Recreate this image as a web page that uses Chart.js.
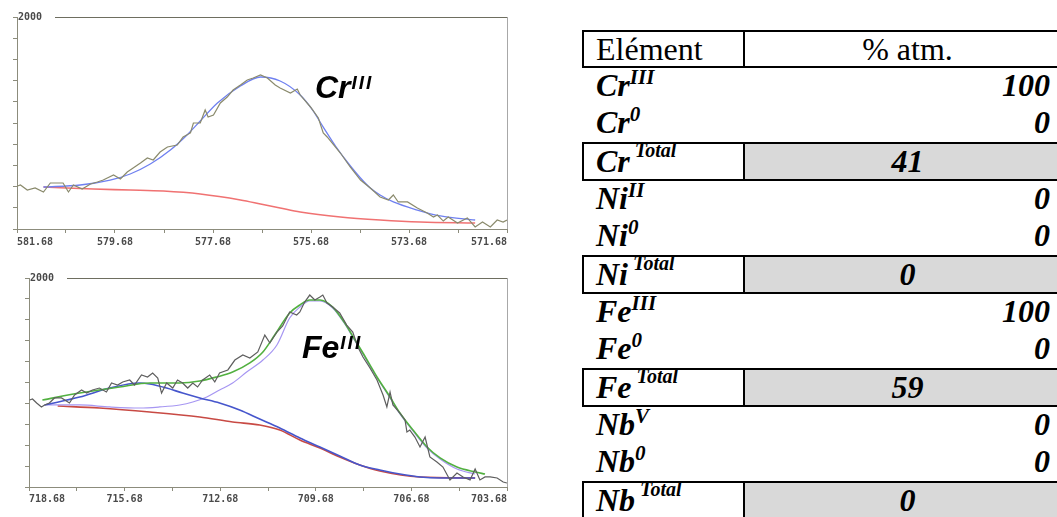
<!DOCTYPE html>
<html>
<head>
<meta charset="utf-8">
<script src="https://cdn.jsdelivr.net/npm/chart.js@4.4.0/dist/chart.umd.min.js"></script>
<style>
html, body { margin: 0; padding: 0; background: #fff; }
body { width: 1057px; height: 517px; overflow: hidden; position: relative; }
canvas { position: absolute; left: 0; }
#crChart { top: 0; }
#feChart { top: 260px; }
.tag { position: absolute; font: italic bold 32px "Liberation Sans", Arial, sans-serif; line-height: 32px; color: #000; white-space: nowrap; z-index: 2; }
.tag span { position: relative; top: -9px; font-size: 19px; letter-spacing: 2px; margin-left: 1px; }
#table { position: absolute; left: 582px; top: 30px; width: 488px; font-family: "Liberation Serif", "Times New Roman", serif; color: #000; }
.row { display: flex; box-sizing: border-box; height: 37px; border-left: 2px solid transparent; }
.row.head { height: 38px; border: 2px solid #000; border-right: none; font-size: 32px; }
.row.total { height: 39px; border: 2px solid #000; border-right: none; }
.cell1 { box-sizing: border-box; width: 161px; padding-left: 12px; white-space: nowrap; }
.row.head .cell1, .row.total .cell1 { border-right: 2px solid #000; }
.cell2 { flex: 1; white-space: nowrap; }
.row.head .cell2 { text-align: center; }
.lbl { font-size: 32px; font-weight: bold; font-style: italic; line-height: 35px; }
.lbl sup { font-size: 21px; position: relative; top: -12px; vertical-align: baseline; line-height: 0; }
.row.total .lbl sup { font-size: 20px; top: -15px; margin-left: 5px; }
.val { font-size: 32px; font-weight: bold; font-style: italic; line-height: 35px; text-align: right; padding-right: 20px; }
.row.total .val { background: #d9d9d9; text-align: center; padding-right: 0; }
.row.head .cell1, .row.head .cell2 { line-height: 34px; }
</style>
</head>
<body>
<canvas id="crChart" width="540" height="260"></canvas>
<canvas id="feChart" width="540" height="257"></canvas>
<div class="tag" style="left:315px; top:71px;">Cr<span>III</span></div>
<div class="tag" style="left:302px; top:331px;">Fe<span>III</span></div>
<div id="table"></div>
<script>
// Cr 2p spectrum (binding energy eV, counts)
const crRawEnergy = [581.67, 581.61, 581.47, 581.31, 581.14, 581.00, 580.86, 580.74, 580.63, 580.53, 580.35, 580.18, 580.04, 579.92, 579.71, 579.57, 579.43, 579.31, 579.16, 579.02, 578.90, 578.76, 578.61, 578.41, 578.29, 578.14, 578.08, 577.94, 577.84, 577.78, 577.67, 577.53, 577.39, 577.27, 577.12, 576.98, 576.86, 576.71, 576.57, 576.41, 576.31, 576.10, 575.96, 575.90, 575.69, 575.53, 575.43, 575.35, 575.08, 574.88, 574.67, 574.47, 574.27, 574.10, 574.00, 573.90, 573.71, 573.51, 573.31, 573.18, 573.10, 572.98, 572.88, 572.69, 572.49, 572.33, 572.18, 572.02, 571.88, 571.76, 571.68];
const crRawCounts = [406, 415, 368, 387, 349, 434, 434, 434, 349, 415, 377, 425, 443, 462, 509, 472, 538, 575, 623, 670, 651, 726, 774, 792, 868, 906, 1000, 1000, 1123, 1057, 1075, 1189, 1245, 1311, 1358, 1406, 1425, 1453, 1425, 1358, 1330, 1283, 1321, 1264, 1151, 1047, 906, 868, 717, 585, 462, 387, 302, 274, 321, 255, 255, 198, 151, 113, 132, 75, 113, 57, 104, 19, 66, 19, 85, 66, 85];
const crFitEnergy = [581.14, 580.39, 579.78, 579.37, 578.96, 578.55, 578.21, 577.94, 577.59, 577.12, 576.71, 576.31, 575.90, 575.65, 575.43, 575.18, 574.94, 574.67, 574.47, 574.27, 574.00, 573.51, 573.04, 572.33];
const crFitCounts = [396, 415, 462, 519, 613, 745, 887, 1019, 1189, 1349, 1434, 1396, 1264, 1123, 962, 783, 632, 481, 387, 321, 255, 179, 123, 85];
const crBgEnergy = [581.14, 580.12, 579.37, 578.69, 577.94, 577.12, 576.71, 576.31, 575.90, 575.08, 574.27, 573.45, 572.33];
const crBgCounts = [396, 377, 368, 358, 330, 274, 236, 198, 160, 113, 85, 66, 57];
const crTicks = [581.68, 580.68, 579.68, 578.68, 577.68, 576.68, 575.68, 574.68, 573.68, 572.68, 571.68];
const crTickLabels = ['581.68', '579.68', '577.68', '575.68', '573.68', '571.68'];

// Fe 2p spectrum
const feRawEnergy = [718.66, 718.57, 718.44, 718.29, 718.19, 718.04, 717.88, 717.66, 717.41, 717.25, 717.03, 716.87, 716.69, 716.47, 716.25, 716.09, 715.90, 715.74, 715.52, 715.37, 715.15, 714.96, 714.80, 714.64, 714.52, 714.36, 714.17, 714.02, 713.86, 713.70, 713.54, 713.39, 713.23, 713.01, 712.85, 712.70, 712.44, 712.22, 711.97, 711.75, 711.50, 711.28, 711.12, 710.90, 710.72, 710.50, 710.28, 710.18, 710.03, 709.87, 709.71, 709.55, 709.46, 709.33, 709.15, 708.93, 708.71, 708.52, 708.36, 708.20, 707.98, 707.76, 707.57, 707.45, 707.35, 707.26, 707.04, 706.88, 706.82, 706.73, 706.57, 706.41, 706.25, 706.10, 705.88, 705.69, 705.47, 705.25, 705.06, 704.84, 704.68, 704.53, 704.37, 704.21, 703.99, 703.80, 703.68];
const feRawCounts = [833, 842, 804, 766, 785, 804, 852, 852, 804, 880, 928, 899, 928, 947, 909, 995, 976, 1005, 1024, 976, 1072, 1053, 1091, 1043, 899, 995, 947, 1024, 995, 947, 995, 957, 1024, 1072, 1005, 1091, 1120, 1215, 1263, 1234, 1292, 1454, 1378, 1483, 1541, 1675, 1646, 1675, 1770, 1837, 1789, 1818, 1837, 1761, 1722, 1665, 1550, 1483, 1340, 1244, 1139, 1024, 880, 766, 909, 785, 708, 641, 526, 545, 478, 383, 478, 287, 239, 191, 67, 134, 96, 67, 172, 67, 96, 96, 86, 48, 38];
const feEnvEnergy = [718.26, 717.09, 715.84, 714.89, 713.95, 713.32, 712.79, 712.29, 711.75, 711.34, 710.97, 710.50, 710.18, 709.87, 709.55, 709.15, 708.77, 708.45, 708.20, 707.89, 707.76, 707.35, 707.04, 706.63, 706.19, 705.78, 705.25, 704.68, 704.37];
const feEnvCounts = [833, 899, 957, 995, 995, 1014, 1053, 1100, 1187, 1292, 1454, 1665, 1742, 1789, 1789, 1722, 1569, 1407, 1282, 1120, 1053, 861, 708, 545, 383, 278, 191, 144, 124];
const feLowEnergy = [718.19, 717.09, 716.15, 715.21, 714.89, 714.36, 713.86, 713.32, 712.70, 712.07, 711.44, 710.81, 710.18, 709.55, 708.93, 708.30, 707.67, 707.04, 706.41, 705.78, 704.68];
const feLowCounts = [785, 861, 947, 995, 986, 947, 899, 852, 804, 737, 651, 565, 469, 383, 297, 211, 163, 124, 96, 86, 86];
const feMainEnergy = [718.19, 717.09, 716.15, 715.21, 714.58, 713.95, 713.54, 713.10, 712.70, 712.29, 711.85, 711.34, 710.90, 710.50, 710.18, 709.87, 709.55, 709.15, 708.77, 708.45, 708.20, 707.89, 707.35, 707.04, 706.63, 706.19, 705.78, 705.25, 704.68];
const feMainCounts = [785, 785, 766, 756, 766, 785, 813, 861, 928, 995, 1100, 1215, 1359, 1617, 1722, 1780, 1780, 1713, 1560, 1397, 1273, 1110, 852, 699, 536, 373, 268, 172, 124];
const feBgEnergy = [717.78, 716.47, 714.89, 713.32, 712.29, 711.44, 710.81, 710.18, 709.55, 708.93, 708.30, 707.67, 706.41, 704.68];
const feBgCounts = [775, 756, 718, 670, 622, 593, 545, 450, 373, 287, 211, 153, 96, 86];
const feTicks = [718.68, 717.18, 715.68, 714.18, 712.68, 711.18, 709.68, 708.18, 706.68, 705.18, 703.68];
const feTickLabels = ['718.68', '715.68', '712.68', '709.68', '706.68', '703.68'];

// table
const rowSymbols = ['Cr', 'Cr', 'Cr', 'Ni', 'Ni', 'Ni', 'Fe', 'Fe', 'Fe', 'Nb', 'Nb', 'Nb'];
const rowStates = ['III', '0', 'Total', 'II', '0', 'Total', 'III', '0', 'Total', 'V', '0', 'Total'];
const rowValues = [100, 0, 41, 0, 0, 0, 100, 0, 59, 0, 0, 0];

function pts(xs, ys) {
    return xs.map((x, i) => ({ x: x, y: ys[i] }));
}

const axisColor = '#8c8c7c';
const tickFont = { family: 'DejaVu Sans Mono', size: 10, weight: 'bold' };

// top and right frame lines, top one leaves room for the "2000" label
const framePlugin = {
    id: 'frame',
    afterDraw(chart) {
        const a = chart.chartArea;
        const ctx = chart.ctx;
        ctx.save();
        ctx.lineWidth = 1;
        ctx.strokeStyle = '#6e6e60';
        ctx.beginPath();
        ctx.moveTo(a.left + 38, a.top + 0.5);
        ctx.lineTo(a.right, a.top + 0.5);
        ctx.stroke();
        ctx.strokeStyle = '#a8a8a8';
        ctx.beginPath();
        ctx.moveTo(a.right + 0.5, a.top);
        ctx.lineTo(a.right + 0.5, a.bottom);
        ctx.stroke();
        ctx.restore();
    }
};

function spectrumChart(id, cfg) {
    return new Chart(document.getElementById(id), {
        type: 'line',
        data: {
            datasets: cfg.series.map(s => ({
                data: pts(s.e, s.c),
                borderColor: s.color,
                borderWidth: s.width,
                pointRadius: 0,
                fill: false,
                tension: s.smooth ? 0.4 : 0,
                cubicInterpolationMode: s.smooth ? 'monotone' : 'default'
            }))
        },
        options: {
            responsive: false,
            animation: false,
            events: [],
            layout: { padding: { top: cfg.top, right: 33, bottom: 0, left: 0 } },
            plugins: { legend: { display: false }, tooltip: { enabled: false } },
            scales: {
                x: {
                    type: 'linear',
                    reverse: true,
                    min: Math.min(...cfg.ticks),
                    max: Math.max(...cfg.ticks),
                    afterBuildTicks: s => { s.ticks = cfg.ticks.slice().sort((a, b) => a - b).map(v => ({ value: v })); },
                    afterFit: s => { s.height = cfg.xh; },
                    grid: { drawOnChartArea: false, drawTicks: true, tickLength: 4, color: axisColor },
                    border: { display: true, color: axisColor, width: 1 },
                    ticks: {
                        autoSkip: false, maxRotation: 0, align: 'inner', padding: cfg.xpad,
                        color: '#4a4a4a', font: tickFont,
                        callback: v => { const t = Number(v).toFixed(2); return cfg.labels.includes(t) ? t : ''; }
                    }
                },
                y: {
                    min: 0,
                    max: 2000,
                    afterFit: s => { s.width = cfg.yw; },
                    grid: { drawOnChartArea: false, drawTicks: true, tickLength: 4, color: axisColor },
                    border: { display: true, color: axisColor, width: 1 },
                    ticks: {
                        stepSize: 200, mirror: true, padding: 1,
                        color: '#4a4a4a', font: tickFont,
                        callback: v => v === 2000 ? '2000' : ''
                    }
                }
            }
        },
        plugins: [framePlugin]
    });
}

spectrumChart('crChart', {
    top: 17, yw: 17, xh: 31, xpad: 3,
    ticks: crTicks, labels: crTickLabels,
    series: [
        { e: crRawEnergy, c: crRawCounts, color: '#8a8a6c', width: 1.2, smooth: false },
        { e: crFitEnergy, c: crFitCounts, color: '#6f80f0', width: 1.3, smooth: true },
        { e: crBgEnergy, c: crBgCounts, color: '#f07272', width: 1.6, smooth: true }
    ]
});

spectrumChart('feChart', {
    top: 18, yw: 29, xh: 30, xpad: 2,
    ticks: feTicks, labels: feTickLabels,
    series: [
        { e: feRawEnergy, c: feRawCounts, color: '#5e5e5e', width: 1.2, smooth: false },
        { e: feEnvEnergy, c: feEnvCounts, color: '#52b040', width: 1.6, smooth: true },
        { e: feLowEnergy, c: feLowCounts, color: '#4656cc', width: 1.6, smooth: true },
        { e: feMainEnergy, c: feMainCounts, color: '#a696f2', width: 1.2, smooth: true },
        { e: feBgEnergy, c: feBgCounts, color: '#c84a44', width: 1.6, smooth: true }
    ]
});

// table
const table = document.getElementById('table');
table.innerHTML = '<div class="row head"><div class="cell1">Elément</div><div class="cell2">% atm.</div></div>' +
    rowSymbols.map((sym, i) => {
        const total = rowStates[i] === 'Total';
        return '<div class="row' + (total ? ' total' : '') + '">' +
            '<div class="cell1 lbl">' + sym + '<sup>' + rowStates[i] + '</sup></div>' +
            '<div class="cell2 val">' + rowValues[i] + '</div></div>';
    }).join('');
</script>
</body>
</html>
